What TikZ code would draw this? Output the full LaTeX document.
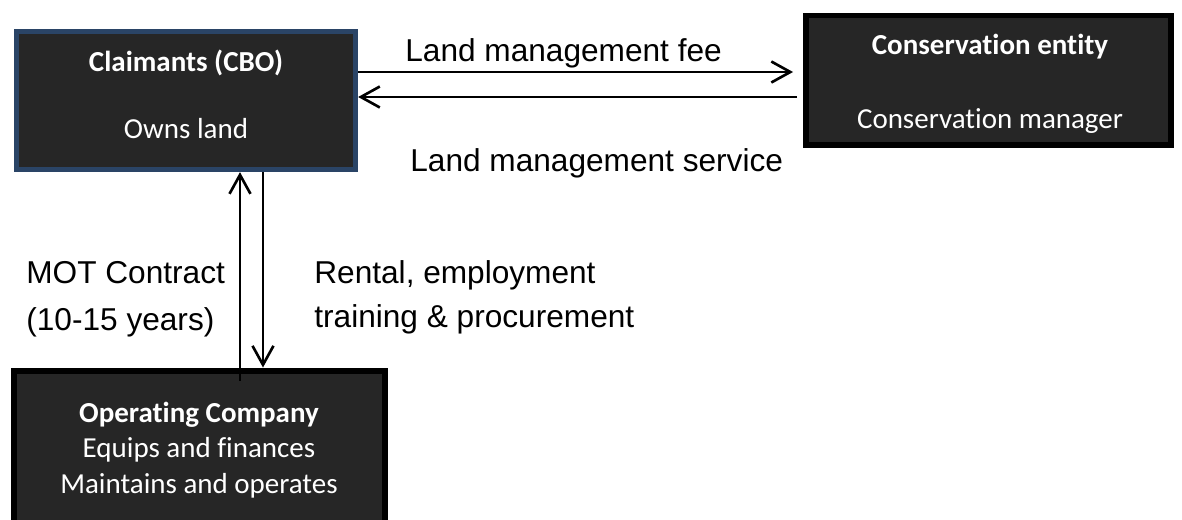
\documentclass[tikz,border=0pt]{standalone}
\usepackage{fontspec}
\setmainfont{Liberation Sans}
\newfontfamily\boxfont[Ligatures=NoCommon]{Carlito}
\usetikzlibrary{positioning}
\usetikzlibrary{arrows.meta}

\definecolor{boxfill}{HTML}{262626}
\definecolor{cboblue}{HTML}{2A4466}

\tikzset{
  party/.style={draw=black, line width=3pt, fill=boxfill, rectangle, inner sep=0pt},
  boxtitle/.style={text=white, font=\boxfont\bfseries\fontsize{16.5}{20}\selectfont, anchor=base, inner sep=0pt},
  boxtext/.style={text=white, font=\boxfont\fontsize{16.5}{20}\selectfont, anchor=base, inner sep=0pt},
  flowlabel/.style={font=\fontsize{18}{22}\selectfont, anchor=base west, inner sep=0pt},
  flow/.style={line width=1.5pt, -{Straight Barb[length=0.38cm, width=0.42cm]}},
}

\begin{document}
\begin{tikzpicture}[x=0.02cm, y=-0.02cm]
    \useasboundingbox (0,0) rectangle (1182,520);

    % the three parties
    \node[party, draw=cboblue, minimum width=6.78cm, minimum height=2.76cm] (cbo) at (186,100.5) {};
    \node[party, line width=3.4pt, minimum width=7.3cm, minimum height=2.6cm] (cons) at (988.5,80.5) {};
    \node[party, line width=3.4pt, minimum width=7.44cm, minimum height=3.08cm] (opco) at (199.5,447.5) {};

    \node[boxtitle] (cbotitle) at (186,72) {Claimants (CBO)};
    \node[boxtext] (cbotext) at (186,139) {Owns land};
    \node[boxtitle] (constitle) at (990,55) {Conservation entity};
    \node[boxtext] (constext) at (990,129) {Conservation manager};
    \node[boxtitle] (opcotitle) at (199,422) {Operating Company};
    \node[boxtext] (opcoequips) at (199,457) {Equips and finances};
    \node[boxtext] (opcoruns) at (199,493) {Maintains and operates};

    % fee one way, service the other
    \draw[flow, shorten >=0.2cm] ([yshift=0.57cm]cbo.east) -- ([yshift=0.57cm]cbo.east -| cons.west);
    \draw[flow, shorten <=0.12cm] ([yshift=0.07cm]cbo.east -| cons.west) -- ([yshift=0.07cm]cbo.east);

    % contract up, rental etc. down
    \draw[flow, shorten <=-0.26cm] ([xshift=1.08cm]cbo.south |- opco.north) -- ([xshift=1.08cm]cbo.south);
    \draw[flow] ([xshift=1.54cm]cbo.south) -- ([xshift=1.54cm]cbo.south |- opco.north);

    \node[flowlabel] (fee) at (405,62) {Land management fee};
    \node[flowlabel] (service) at (410,172) {Land management service};
    \node[flowlabel] (mot) at (26,283) {MOT Contract};
    \node[flowlabel] (motyears) at (26,330) {(10-15 years)};
    \node[flowlabel] (rental) at (314,283) {Rental, employment};
    \node[flowlabel] (training) at (314,327) {training \& procurement};

\end{tikzpicture}
\end{document}
